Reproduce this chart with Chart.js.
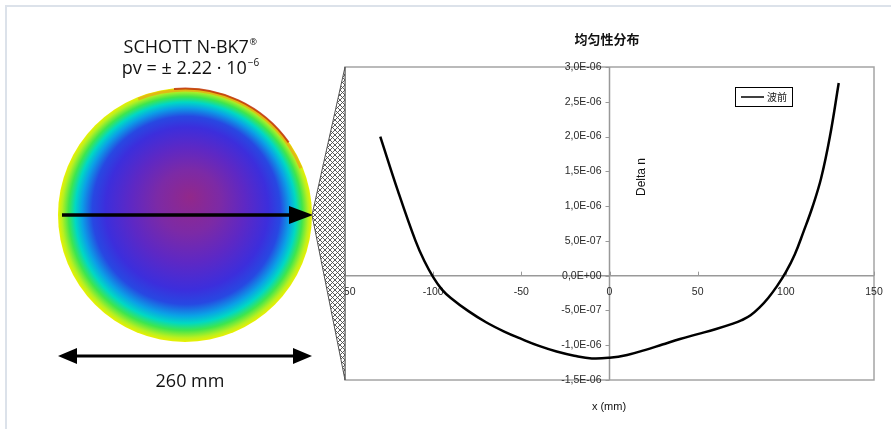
<!DOCTYPE html>
<html>
<head>
<meta charset="utf-8">
<script src="https://cdn.jsdelivr.net/npm/chart.js@4.4.1/dist/chart.umd.min.js"></script>
<style>
  html, body { margin: 0; padding: 0; background: #ffffff; }
  #wrap { width: 891px; height: 429px; }
</style>
</head>
<body>
<div id="wrap"><canvas id="chart" width="891" height="429"></canvas></div>
<script>
// profile along the diameter, x in mm
const xValues = [-130, -120, -110, -105, -100, -95, -90, -80, -70, -60, -50, -40, -30, -20, -10, 0,
                 10, 20, 30, 40, 50, 60, 70, 75, 80, 85, 90, 95, 100, 105, 110, 115, 120, 125, 130];
const deltaN = [2.00e-6, 1.22e-6, 0.50e-6, 0.21e-6, -0.02e-6, -0.20e-6, -0.32e-6, -0.51e-6, -0.67e-6,
                -0.80e-6, -0.91e-6, -1.01e-6, -1.09e-6, -1.15e-6, -1.19e-6, -1.18e-6,
                -1.14e-6, -1.07e-6, -0.99e-6, -0.91e-6, -0.84e-6, -0.77e-6, -0.69e-6, -0.64e-6,
                -0.57e-6, -0.46e-6, -0.32e-6, -0.15e-6, 0.05e-6, 0.30e-6, 0.63e-6, 0.98e-6,
                1.40e-6, 2.00e-6, 2.77e-6];

const xTicks = [-150, -100, -50, 0, 50, 100, 150];
const xTickLabels = ['-150', '-100', '-50', '0', '50', '100', '150'];
const yTicks = [-1.5e-6, -1.0e-6, -0.5e-6, 0, 0.5e-6, 1.0e-6, 1.5e-6, 2.0e-6, 2.5e-6, 3.0e-6];
const yTickLabels = ['-1,5E-06', '-1,0E-06', '-5,0E-07', '0,0E+00', '5,0E-07',
                     '1,0E-06', '1,5E-06', '2,0E-06', '2,5E-06', '3,0E-06'];

const seriesName = '波前';
const chartTitle = '均匀性分布';
const yTitle = 'Delta n';
const xTitle = 'x (mm)';

// left side picture: sample map, arrows and captions
function drawSample(ctx) {
    const cx = 185, cy = 215, r = 127;
    ctx.save();
    const g = ctx.createRadialGradient(190, 197, 0, cx, cy, r);
    g.addColorStop(0.00, '#92288a');
    g.addColorStop(0.25, '#7c2aa6');
    g.addColorStop(0.45, '#5e28c4');
    g.addColorStop(0.64, '#3c2edc');
    g.addColorStop(0.74, '#2748e2');
    g.addColorStop(0.82, '#0aa2e6');
    g.addColorStop(0.87, '#00d8c4');
    g.addColorStop(0.92, '#3ee64e');
    g.addColorStop(0.97, '#b8f020');
    g.addColorStop(1.00, '#ecf000');
    ctx.beginPath();
    ctx.arc(cx, cy, r, 0, Math.PI * 2);
    ctx.fillStyle = g;
    ctx.fill();

    // warm rim on the upper right
    ctx.beginPath();
    ctx.arc(cx, cy, r - 2, -112 * Math.PI / 180, -22 * Math.PI / 180);
    ctx.strokeStyle = 'rgba(240,150,20,0.6)';
    ctx.lineWidth = 3;
    ctx.stroke();
    ctx.beginPath();
    ctx.arc(cx, cy, r - 0.5, -95 * Math.PI / 180, -35 * Math.PI / 180);
    ctx.strokeStyle = 'rgba(190,40,15,0.8)';
    ctx.lineWidth = 2;
    ctx.stroke();

    // arrow across the sample
    ctx.strokeStyle = '#000';
    ctx.fillStyle = '#000';
    ctx.lineWidth = 3.5;
    ctx.beginPath();
    ctx.moveTo(62, 215);
    ctx.lineTo(292, 215);
    ctx.stroke();
    ctx.beginPath();
    ctx.moveTo(289, 206);
    ctx.lineTo(313, 215);
    ctx.lineTo(289, 224);
    ctx.closePath();
    ctx.fill();

    // diameter arrow
    ctx.lineWidth = 3;
    ctx.beginPath();
    ctx.moveTo(72, 356);
    ctx.lineTo(298, 356);
    ctx.stroke();
    ctx.beginPath();
    ctx.moveTo(58, 356); ctx.lineTo(77, 348); ctx.lineTo(77, 364); ctx.closePath();
    ctx.moveTo(312, 356); ctx.lineTo(293, 348); ctx.lineTo(293, 364); ctx.closePath();
    ctx.fill();

    // captions
    ctx.fillStyle = '#111';
    ctx.textBaseline = 'alphabetic';
    ctx.font = '18px "Open Sans"';
    const t1 = 'SCHOTT N-BK7';
    const w1 = ctx.measureText(t1).width;
    ctx.font = '9px "Open Sans"';
    const wr = ctx.measureText('®').width;
    let x0 = 190 - (w1 + wr) / 2;
    ctx.font = '18px "Open Sans"';
    ctx.textAlign = 'left';
    ctx.fillText(t1, x0, 53);
    ctx.font = '9px "Open Sans"';
    ctx.fillText('®', x0 + w1 + 0.5, 45);

    ctx.font = '18px "Open Sans"';
    const t2 = 'pv = ± 2.22 · 10';
    const w2 = ctx.measureText(t2).width;
    ctx.font = '10px "Open Sans"';
    const we = ctx.measureText('−6').width;
    x0 = 190 - (w2 + we) / 2;
    ctx.font = '18px "Open Sans"';
    ctx.fillText(t2, x0, 74);
    ctx.font = '10px "Open Sans"';
    ctx.fillText('−6', x0 + w2 + 1, 66);

    ctx.font = '18px "Open Sans"';
    ctx.textAlign = 'center';
    ctx.fillText('260 mm', 190, 387);
    ctx.restore();
}

function hatchPattern(ctx) {
    const p = document.createElement('canvas');
    p.width = 5; p.height = 5;
    const pc = p.getContext('2d');
    pc.fillStyle = '#fff';
    pc.fillRect(0, 0, 5, 5);
    pc.strokeStyle = '#4a4a4a';
    pc.lineWidth = 0.9;
    pc.beginPath();
    pc.moveTo(0, 0); pc.lineTo(5, 5);
    pc.moveTo(0, 5); pc.lineTo(5, 0);
    pc.stroke();
    return ctx.createPattern(p, 'repeat');
}

const decor = {
    id: 'decor',
    beforeDraw(chart) {
        const ctx = chart.ctx;
        const area = chart.chartArea;
        const xs = chart.scales.x, ys = chart.scales.y;
        ctx.save();
        ctx.fillStyle = '#fff';
        ctx.fillRect(0, 0, chart.width, chart.height);

        // page frame
        ctx.strokeStyle = '#dce2ea';
        ctx.lineWidth = 2;
        ctx.beginPath();
        ctx.moveTo(6, chart.height);
        ctx.lineTo(6, 6);
        ctx.lineTo(chart.width, 6);
        ctx.stroke();

        drawSample(ctx);

        // plot frame
        ctx.strokeStyle = '#a4a4a4';
        ctx.lineWidth = 1.5;
        ctx.strokeRect(area.left, area.top, area.right - area.left, area.bottom - area.top);

        // axes crossing at zero
        const x0 = xs.getPixelForValue(0);
        const y0 = ys.getPixelForValue(0);
        ctx.strokeStyle = '#999';
        ctx.lineWidth = 1.5;
        ctx.beginPath();
        ctx.moveTo(area.left, y0); ctx.lineTo(area.right, y0);
        ctx.moveTo(x0, area.top); ctx.lineTo(x0, area.bottom);
        ctx.stroke();

        ctx.lineWidth = 1;
        ctx.beginPath();
        yTicks.forEach(v => {
            const y = Math.round(ys.getPixelForValue(v)) + 0.5;
            ctx.moveTo(x0 - 4, y); ctx.lineTo(x0, y);
        });
        xTicks.forEach(v => {
            const x = Math.round(xs.getPixelForValue(v)) + 0.5;
            ctx.moveTo(x, y0 - 4); ctx.lineTo(x, y0);
        });
        ctx.stroke();

        ctx.fillStyle = '#2a2a2a';
        ctx.font = '10.5px "Liberation Sans"';
        ctx.textBaseline = 'middle';
        ctx.textAlign = 'right';
        yTicks.forEach((v, i) => ctx.fillText(yTickLabels[i], x0 - 8, ys.getPixelForValue(v)));
        ctx.textAlign = 'center';
        xTicks.forEach((v, i) => ctx.fillText(xTickLabels[i], xs.getPixelForValue(v), y0 + 16));
        ctx.restore();
    },
    afterDatasetsDraw(chart) {
        const ctx = chart.ctx;
        const area = chart.chartArea;
        ctx.save();
        // hatched wedge from arrow tip to the plot
        ctx.beginPath();
        ctx.moveTo(312, 215);
        ctx.lineTo(area.left, area.top);
        ctx.lineTo(area.left, area.bottom);
        ctx.closePath();
        ctx.fillStyle = hatchPattern(ctx);
        ctx.fill();
        ctx.strokeStyle = '#555';
        ctx.lineWidth = 1;
        ctx.stroke();

        // legend box
        ctx.strokeStyle = '#000';
        ctx.lineWidth = 1;
        ctx.fillStyle = '#fff';
        ctx.fillRect(735.5, 87.5, 57, 19);
        ctx.strokeRect(735.5, 87.5, 57, 19);
        ctx.lineWidth = 1.5;
        ctx.beginPath();
        ctx.moveTo(741, 97); ctx.lineTo(764, 97);
        ctx.stroke();
        ctx.fillStyle = '#111';
        ctx.font = '10px "Noto Sans CJK SC"';
        ctx.textAlign = 'left';
        ctx.textBaseline = 'middle';
        ctx.fillText(seriesName, 767, 97);

        // titles
        ctx.font = 'bold 13px "Noto Sans CJK SC"';
        ctx.textAlign = 'center';
        ctx.fillText(chartTitle, 607, 39);

        ctx.font = '11px "Liberation Sans"';
        ctx.fillText(xTitle, 609, 407);

        ctx.save();
        ctx.translate(642, 177);
        ctx.rotate(-Math.PI / 2);
        ctx.font = '12px "Liberation Sans"';
        ctx.fillText(yTitle, 0, 0);
        ctx.restore();
        ctx.restore();
    }
};

new Chart(document.getElementById('chart').getContext('2d'), {
    type: 'scatter',
    data: {
        datasets: [{
            label: seriesName,
            data: xValues.map((x, i) => ({ x: x, y: deltaN[i] })),
            showLine: true,
            borderColor: '#000',
            borderWidth: 2.5,
            pointRadius: 0,
            tension: 0.4
        }]
    },
    options: {
        responsive: false,
        animation: false,
        layout: { padding: { left: 345, top: 67, right: 17, bottom: 49 } },
        plugins: { legend: { display: false }, tooltip: { enabled: false } },
        scales: {
            x: { type: 'linear', min: -150, max: 150, display: false },
            y: { type: 'linear', min: -1.5e-6, max: 3e-6, display: false }
        }
    },
    plugins: [decor]
});
</script>
</body>
</html>
